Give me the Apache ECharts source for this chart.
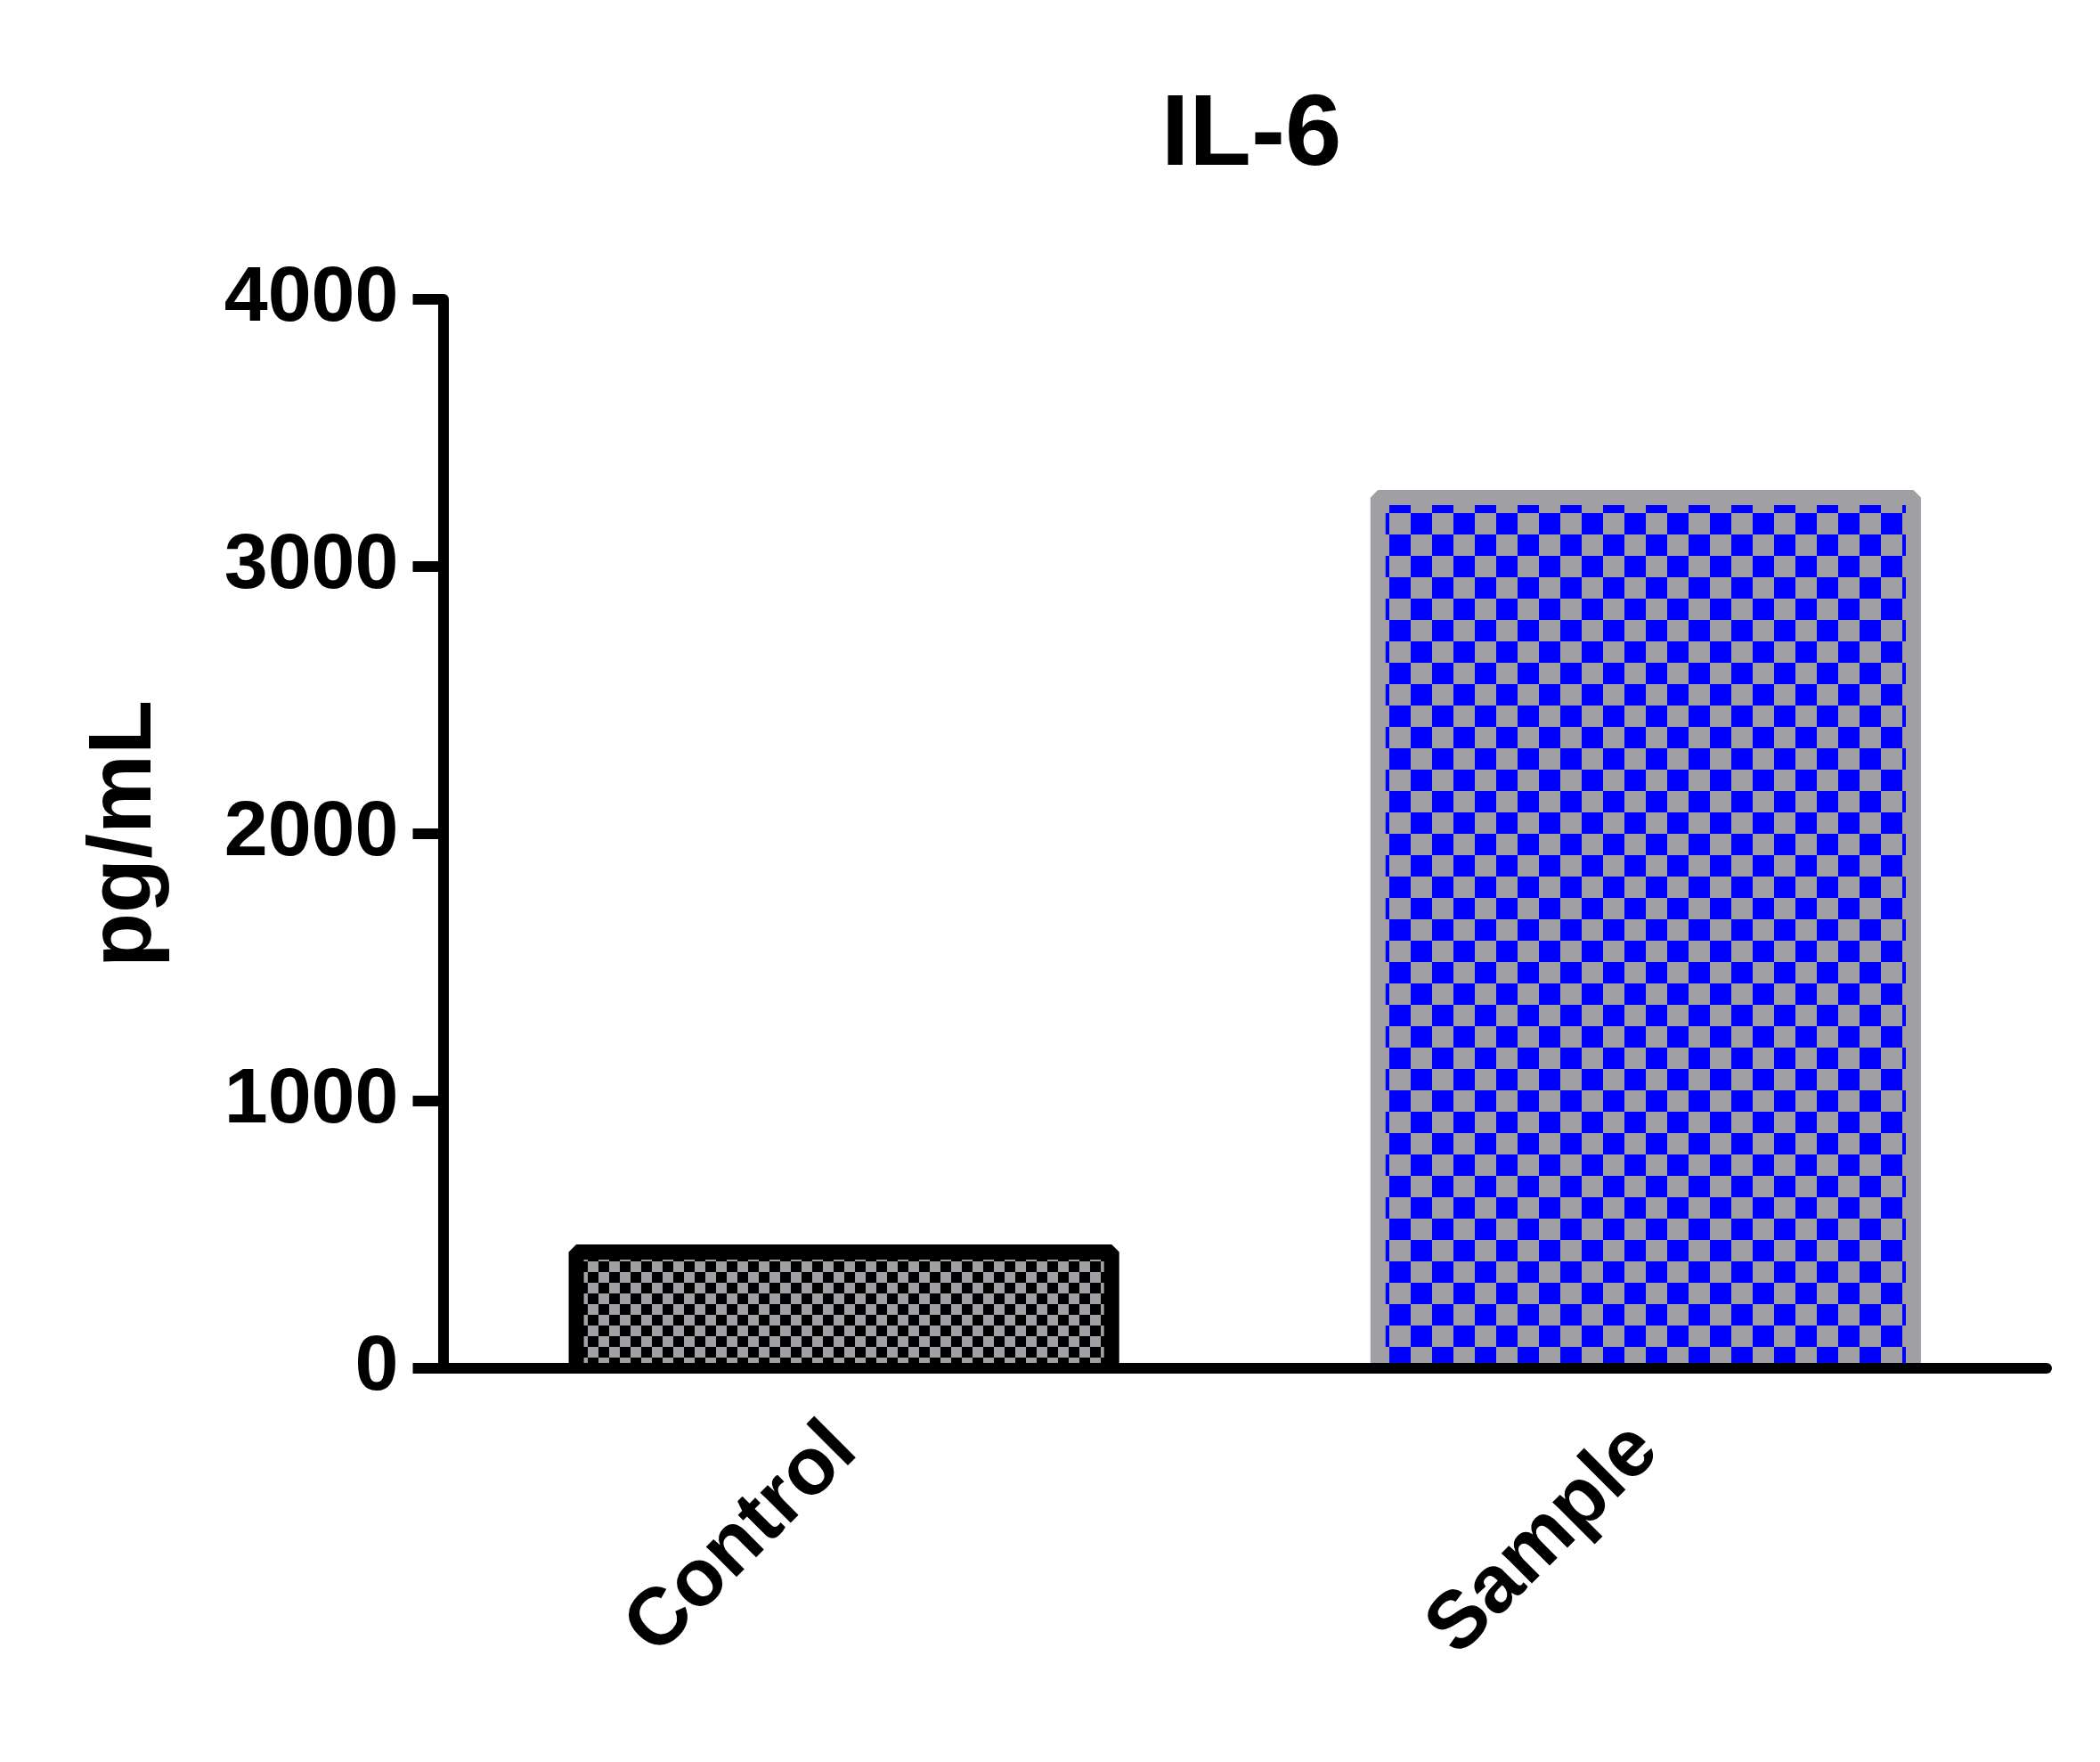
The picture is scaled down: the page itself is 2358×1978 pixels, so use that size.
<!DOCTYPE html>
<html>
<head>
<meta charset="utf-8">
<title>IL-6</title>
<script src="https://cdn.jsdelivr.net/npm/echarts@6/dist/echarts.min.js"></script>
<style>
  html, body { margin: 0; padding: 0; background: #ffffff; }
  #chart { width: 2358px; height: 1978px; }
</style>
</head>
<body>
<div id="chart"></div>
<script>
var categories = ['Control', 'Sample'];
var values = [435, 3258];
var yTicks = [0, 1000, 2000, 3000, 4000];

var FONT = '"Liberation Sans", Arial, sans-serif';
var BAR_RATIO = 601 / 900;   // bar width as share of the category band
var BORDER = 17;

// checkerboard fill, square size in px
function checker(size, c1, c2) {
  var cv = document.createElement('canvas');
  cv.width = size * 2;
  cv.height = size * 2;
  var ctx = cv.getContext('2d');
  ctx.fillStyle = c1;
  ctx.fillRect(0, 0, size * 2, size * 2);
  ctx.fillStyle = c2;
  ctx.fillRect(0, 0, size, size);
  ctx.fillRect(size, size, size, size);
  return cv;
}

var styles = [
  {fill: {image: checker(12, '#a0a0a4', '#000000'), repeat: 'repeat'}, border: '#000000'},
  {fill: {image: checker(24, '#a0a0a4', '#0000ff'), repeat: 'repeat'}, border: '#a0a0a4'}
];

// bar with border on left, top and right only (open at the baseline)
function renderBar(params, api) {
  var idx = api.value(0);
  var top = api.coord([idx, api.value(1)]);
  var base = api.coord([idx, 0]);
  var w = api.size([1, 0])[0] * BAR_RATIO;
  var x0 = top[0] - w / 2;
  var x1 = top[0] + w / 2;
  var s = styles[idx];
  return {
    type: 'group',
    children: [
      {
        type: 'rect',
        shape: {x: x0, y: top[1], width: w, height: base[1] - top[1]},
        style: {fill: s.fill}
      },
      {
        type: 'polyline',
        shape: {points: [[x0, base[1]], [x0, top[1]], [x1, top[1]], [x1, base[1]]]},
        style: {stroke: s.border, lineWidth: BORDER, lineJoin: 'bevel', fill: null}
      }
    ]
  };
}

var chart = echarts.init(document.getElementById('chart'));

chart.setOption({
  backgroundColor: '#ffffff',
  animation: false,
  title: {
    text: 'IL-6',
    left: 1400,
    top: 92,
    textAlign: 'center',
    textStyle: {fontFamily: FONT, fontWeight: 'bold', fontSize: 114, color: '#000'}
  },
  grid: {
    left: 497.5,
    right: 60,
    top: 336,
    bottom: 442,
    outerBoundsMode: 'none'
  },
  xAxis: {
    type: 'category',
    data: categories,
    z: 10,
    axisLine: {lineStyle: {color: '#000', width: 12}},
    axisTick: {alignWithLabel: true, length: 33, lineStyle: {color: '#000', width: 12}},
    axisLabel: {
      rotate: 45,
      margin: 78,
      fontFamily: FONT,
      fontWeight: 'bold',
      fontSize: 91,
      color: '#000'
    }
  },
  yAxis: {
    type: 'value',
    min: yTicks[0],
    max: yTicks[yTicks.length - 1],
    interval: 1000,
    z: 10,
    name: 'pg/mL',
    nameLocation: 'middle',
    nameGap: 306,
    nameTextStyle: {fontFamily: FONT, fontWeight: 'bold', fontSize: 100, color: '#000'},
    axisLine: {show: true, lineStyle: {color: '#000', width: 12}},
    axisTick: {show: true, length: 34, lineStyle: {color: '#000', width: 12}},
    splitLine: {show: false},
    axisLabel: {
      margin: 50,
      fontFamily: FONT,
      fontWeight: 'bold',
      fontSize: 88,
      color: '#000',
      formatter: function(v) { return String(v); }
    }
  },
  series: [{
    type: 'custom',
    renderItem: renderBar,
    encode: {x: 0, y: 1},
    data: values.map(function(v, i) { return [i, v]; })
  }]
});
</script>
</body>
</html>
